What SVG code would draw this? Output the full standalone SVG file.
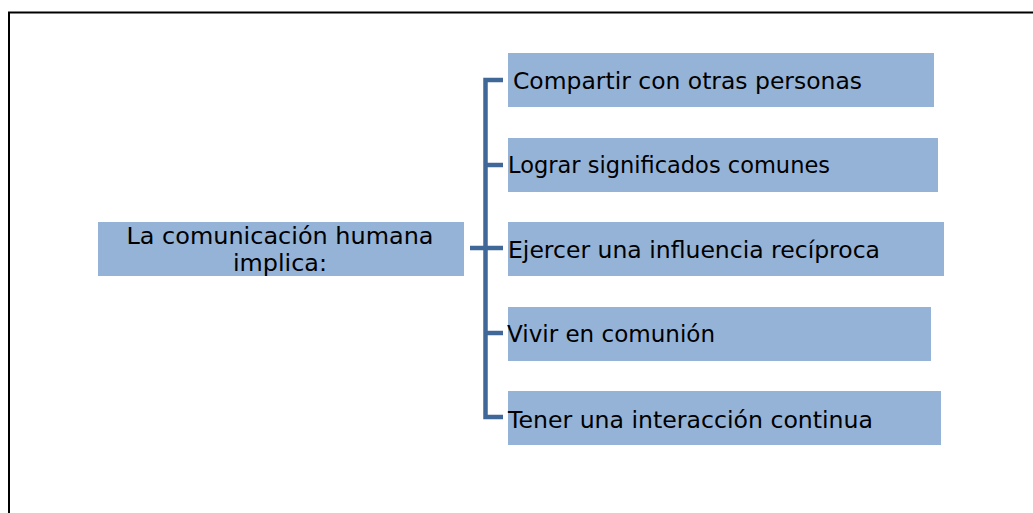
<svg xmlns="http://www.w3.org/2000/svg" width="1033" height="513" viewBox="0 0 1033 513">
<style>
.box{fill:#95b3d7;}
.lbl{font-family:"DejaVu Sans","Liberation Sans",sans-serif;font-size:23px;fill:#000;}
.conn{fill:none;stroke:#3f6899;stroke-width:4.5;}
</style>
<rect x="0" y="0" width="1033" height="513" fill="#fff"/>
<rect x="9" y="12.5" width="1100" height="600" fill="none" stroke="#000" stroke-width="2"/>
<g id="connectors">
<path class="conn" d="M503 80 H485.5 V417 H503"/>
<path class="conn" d="M485.5 165 H503"/>
<path class="conn" d="M470 248 H503"/>
<path class="conn" d="M485.5 333 H503"/>
</g>
<g id="root">
<rect class="box" x="98" y="222" width="366" height="54"/>
<text class="lbl" x="280" y="244" text-anchor="middle" textLength="307" lengthAdjust="spacingAndGlyphs">La comunicación humana</text>
<text class="lbl" x="280" y="271" text-anchor="middle" textLength="94" lengthAdjust="spacingAndGlyphs">implica:</text>
</g>
<g id="n1">
<rect class="box" x="508" y="53" width="426" height="54"/>
<text class="lbl" x="513" y="89" textLength="349" lengthAdjust="spacingAndGlyphs">Compartir con otras personas</text>
</g>
<g id="n2">
<rect class="box" x="508" y="138" width="430" height="54"/>
<text class="lbl" x="508" y="173" textLength="322" lengthAdjust="spacingAndGlyphs">Lograr significados comunes</text>
</g>
<g id="n3">
<rect class="box" x="508" y="222" width="436" height="54"/>
<text class="lbl" x="508" y="258" textLength="372" lengthAdjust="spacingAndGlyphs">Ejercer una influencia recíproca</text>
</g>
<g id="n4">
<rect class="box" x="508" y="307" width="423" height="54"/>
<text class="lbl" x="507" y="342" textLength="208" lengthAdjust="spacingAndGlyphs">Vivir en comunión</text>
</g>
<g id="n5">
<rect class="box" x="508" y="391" width="433" height="54"/>
<text class="lbl" x="508" y="428" textLength="365" lengthAdjust="spacingAndGlyphs">Tener una interacción continua</text>
</g>
</svg>
